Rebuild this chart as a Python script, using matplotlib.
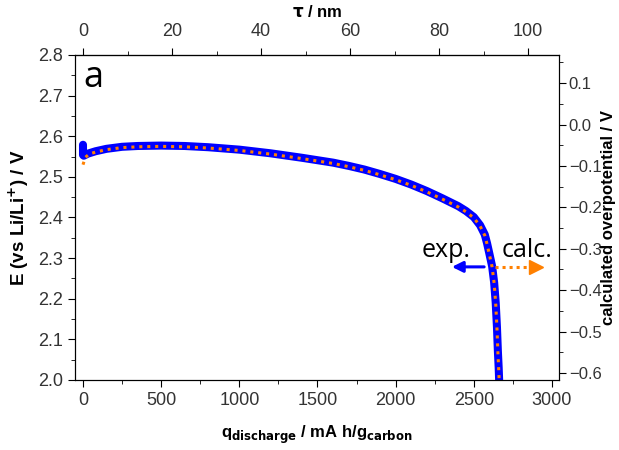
import numpy as np
import matplotlib
matplotlib.use('Agg')
import matplotlib.pyplot as plt
from matplotlib.ticker import MultipleLocator, FixedLocator

# datos
q_exp = [0, 0, 5, 30, 80, 150, 250, 350, 500, 650, 800, 1000, 1200, 1400, 1600,
         1700, 1800, 1900, 2000, 2100, 2200, 2300, 2400, 2450, 2500, 2540, 2570,
         2585, 2600, 2617, 2630, 2640, 2648, 2654, 2659, 2662]
E_exp = [2.579, 2.554, 2.552, 2.557, 2.563, 2.569, 2.574, 2.576, 2.577, 2.576,
         2.573, 2.567, 2.558, 2.547, 2.535, 2.527, 2.518, 2.507, 2.495, 2.481,
         2.465, 2.447, 2.428, 2.416, 2.401, 2.381, 2.358, 2.336, 2.310, 2.280,
         2.240, 2.190, 2.130, 2.070, 2.030, 2.000]

q_calc = [0, 15, 40, 80, 150, 250, 350, 500, 650, 800, 1000, 1200, 1400, 1600,
          1700, 1800, 1900, 2000, 2100, 2200, 2300, 2400, 2450, 2500, 2540, 2570,
          2585, 2600, 2617, 2630, 2640, 2648, 2654, 2659, 2662]
E_calc = [2.530, 2.548, 2.556, 2.561, 2.567, 2.572, 2.574, 2.575, 2.574, 2.571,
          2.565, 2.556, 2.545, 2.533, 2.525, 2.516, 2.505, 2.493, 2.479, 2.463,
          2.445, 2.426, 2.414, 2.399, 2.379, 2.356, 2.334, 2.308, 2.278, 2.238,
          2.188, 2.128, 2.068, 2.028, 2.000]

# eje superior: tau en nm
tau_ticks = [0, 20, 40, 60, 80, 100]
tau_minor = [10, 30, 50, 70, 90]
q_por_nm = 28.47

plt.rcParams['font.family'] = ['Liberation Sans', 'DejaVu Sans']
gris = '#333333'

fig = plt.figure(figsize=(6.19, 4.5), dpi=100)
ax = fig.add_axes([0.1212, 0.1556, 0.7819, 0.7222])

ax.plot(q_exp, E_exp, color='#0000ff', lw=5.8, solid_capstyle='round',
        solid_joinstyle='round', zorder=2)
ax.plot(q_calc, E_calc, color='#ff8000', lw=2.2, linestyle=(0, (1, 1.6)),
        dash_capstyle='butt', zorder=3)

ax.set_xlim(-51, 3045)
ax.set_ylim(2.0, 2.8)
ax.xaxis.set_major_locator(MultipleLocator(500))
ax.xaxis.set_minor_locator(MultipleLocator(250))
ax.yaxis.set_major_locator(MultipleLocator(0.1))
ax.yaxis.set_minor_locator(MultipleLocator(0.05))
ax.tick_params(which='both', direction='out', labelsize=13, labelcolor=gris)
ax.tick_params(which='major', length=5)
ax.tick_params(which='minor', length=3)

ax.set_xlabel(r'q$_{\mathbf{discharge}}$ / mA h/g$_{\mathbf{carbon}}$',
              fontsize=12, fontweight='bold', labelpad=11)
ax.set_ylabel(r'E (vs Li/Li$^{\mathbf{+}}$) / V', fontsize=13.5,
              fontweight='bold', labelpad=5)

# eje superior
sec = ax.secondary_xaxis('top', functions=(lambda q: q / q_por_nm,
                                           lambda t: t * q_por_nm))
sec.xaxis.set_major_locator(FixedLocator(tau_ticks))
sec.xaxis.set_minor_locator(FixedLocator(tau_minor))
sec.tick_params(which='both', direction='out', labelsize=13, labelcolor=gris,
                pad=6)
sec.tick_params(which='major', length=5)
sec.tick_params(which='minor', length=3)
sec.set_xlabel(r'$\mathbf{\tau}$ / nm', fontsize=12, fontweight='bold', labelpad=4)

# eje derecho
ax2 = ax.twinx()
ax2.set_ylim(-0.617, 0.168)
ax2.yaxis.set_major_locator(MultipleLocator(0.1))
ax2.yaxis.set_minor_locator(MultipleLocator(0.05))
ax2.tick_params(which='both', direction='out', labelsize=12, labelcolor=gris,
                pad=2)
ax2.tick_params(which='major', length=5)
ax2.tick_params(which='minor', length=3)
ax2.set_ylabel('calculated overpotential / V', fontsize=12, fontweight='bold')
ax2.yaxis.set_label_coords(1.086, 0.5)

# anotaciones
ax.text(0.017, 0.90, 'a', transform=ax.transAxes, fontsize=26,
        family=['Open Sans', 'DejaVu Sans'])
ax.text(0.767, 0.378, 'exp.', transform=ax.transAxes, fontsize=18,
        ha='center', family=['Open Sans', 'DejaVu Sans'])
ax.text(0.934, 0.378, 'calc.', transform=ax.transAxes, fontsize=18,
        ha='center', family=['Open Sans', 'DejaVu Sans'])
ax.annotate('', xy=(0.773, 0.348), xytext=(0.851, 0.348),
            xycoords='axes fraction',
            arrowprops=dict(arrowstyle='-|>', color='#0000ff', lw=2.2,
                            mutation_scale=16), zorder=4)
ax.plot([0.868, 0.945], [0.348, 0.348], transform=ax.transAxes,
        color='#ff8000', lw=2.2, linestyle=(0, (1, 1.3)), zorder=4)
ax.plot([0.952], [0.348], transform=ax.transAxes, marker='>', ms=10,
        color='#ff8000', zorder=4)

fig.savefig('out.png', dpi=100)
